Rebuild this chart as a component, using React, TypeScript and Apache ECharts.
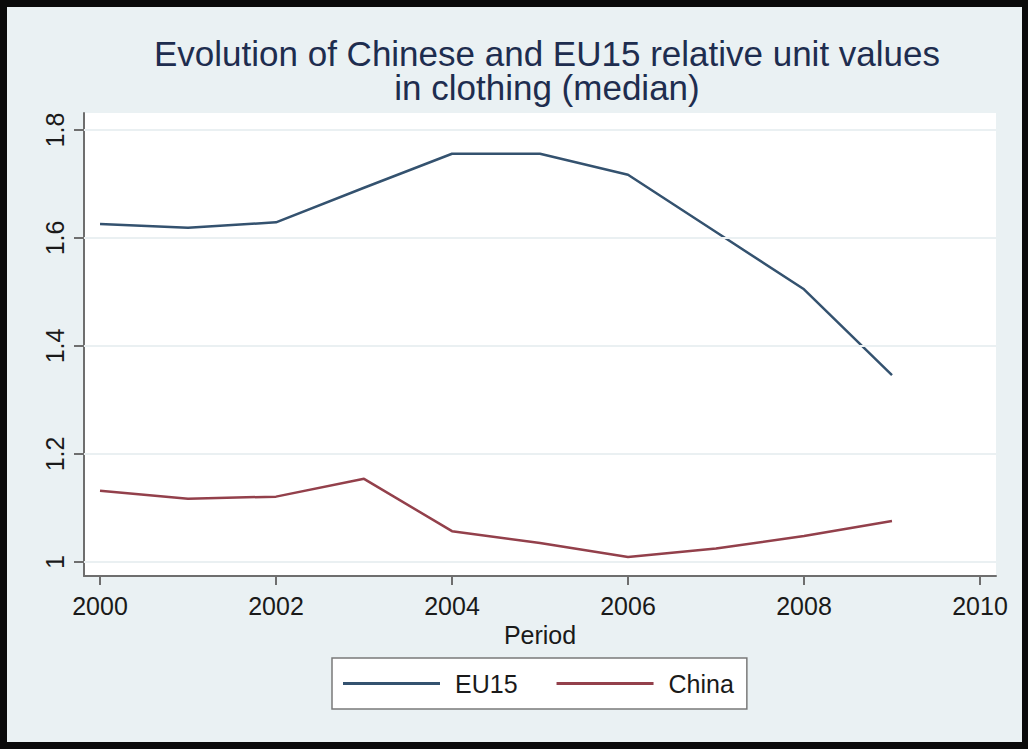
import React, { useEffect, useRef } from "react";
import * as echarts from "echarts";

const years = [2000, 2001, 2002, 2003, 2004, 2005, 2006, 2007, 2008, 2009];
const eu15 = [1.626, 1.619, 1.629, 1.693, 1.756, 1.756, 1.717, 1.611, 1.505, 1.346];
const china = [1.132, 1.117, 1.121, 1.154, 1.057, 1.035, 1.009, 1.025, 1.048, 1.076];
const xTicks = [2000, 2002, 2004, 2006, 2008, 2010];
const yTicks = [1, 1.2, 1.4, 1.6, 1.8];
const titleLines = ["Evolution of Chinese and EU15 relative unit values", "in clothing (median)"];

const FONT = "'Liberation Sans', Arial, sans-serif";

export default function App() {
  const ref = useRef<HTMLDivElement>(null);
  useEffect(() => {
    document.body.style.margin = "0";
    const chart = echarts.init(ref.current!, null, { renderer: "svg" });
    const pair = (vals: number[]) => years.map((y, i) => [y, vals[i]]);
    chart.setOption({
      animation: false,
      backgroundColor: "#0a0a0a",
      textStyle: { fontFamily: FONT },
      graphic: [
        {
          type: "rect",
          z: -10,
          shape: { x: 7, y: 7, width: 1015, height: 735 },
          style: { fill: "#eaf1f3" },
        },
      ],
      title: {
        text: titleLines.join("\n"),
        left: 542,
        top: 31,
        textAlign: "center",
        textStyle: { fontFamily: FONT, fontSize: 35, fontWeight: "normal", color: "#1e2d4f", lineHeight: 34 },
      },
      grid: {
        left: 84,
        top: 113,
        right: 32,
        bottom: 173,
        show: true,
        backgroundColor: "#ffffff",
        borderWidth: 0,
      },
      legend: {
        left: 332,
        top: 658,
        padding: [13, 13, 13, 11],
        itemGap: 39,
        itemWidth: 97,
        itemHeight: 3,
        icon: "rect",
        backgroundColor: "#ffffff",
        borderColor: "#7a7a7a",
        borderWidth: 1.5,
        textStyle: { fontFamily: FONT, fontSize: 25, color: "#1a1a1a", padding: [0, 0, 0, 10] },
        data: ["EU15", "China"],
      },
      xAxis: {
        type: "value",
        min: 1999.818,
        max: 2010.182,
        name: "Period",
        nameLocation: "middle",
        nameGap: 37,
        nameTextStyle: { fontFamily: FONT, fontSize: 25, color: "#1a1a1a" },
        axisLine: { show: true, lineStyle: { color: "#6e6e6e", width: 2 } },
        axisTick: { show: true, customValues: xTicks, length: 9, lineStyle: { color: "#6e6e6e", width: 2 } },
        axisLabel: {
          customValues: xTicks,
          fontFamily: FONT,
          fontSize: 25,
          color: "#1a1a1a",
          margin: 17,
          formatter: (v: number) => String(v),
        },
        splitLine: { show: false },
      },
      yAxis: {
        type: "value",
        min: 0.974,
        max: 1.8315,
        axisLine: { show: true, lineStyle: { color: "#6e6e6e", width: 2 } },
        axisTick: { show: true, customValues: yTicks, length: 10, lineStyle: { color: "#6e6e6e", width: 2 } },
        axisLabel: {
          customValues: yTicks,
          rotate: 90,
          fontFamily: FONT,
          fontSize: 25,
          color: "#1a1a1a",
          margin: 17,
          formatter: (v: number) => String(Math.round(v * 10) / 10),
        },
        splitLine: { show: false },
      },
      series: [
        {
          name: "grid",
          type: "line",
          data: [],
          silent: true,
          z: 1,
          markLine: {
            silent: true,
            symbol: "none",
            label: { show: false },
            lineStyle: { color: "#eaf0f2", width: 2, type: "solid" },
            data: yTicks.map((v) => ({ yAxis: v })),
          },
        },
        {
          name: "EU15",
          type: "line",
          data: pair(eu15),
          symbol: "none",
          z: 3,
          lineStyle: { color: "#34526f", width: 2.5 },
          itemStyle: { color: "#34526f" },
        },
        {
          name: "China",
          type: "line",
          data: pair(china),
          symbol: "none",
          z: 3,
          lineStyle: { color: "#93404b", width: 2.5 },
          itemStyle: { color: "#93404b" },
        },
      ],
    });
    return () => chart.dispose();
  }, []);
  return <div ref={ref} style={{ width: 1028, height: 749 }} />;
}
